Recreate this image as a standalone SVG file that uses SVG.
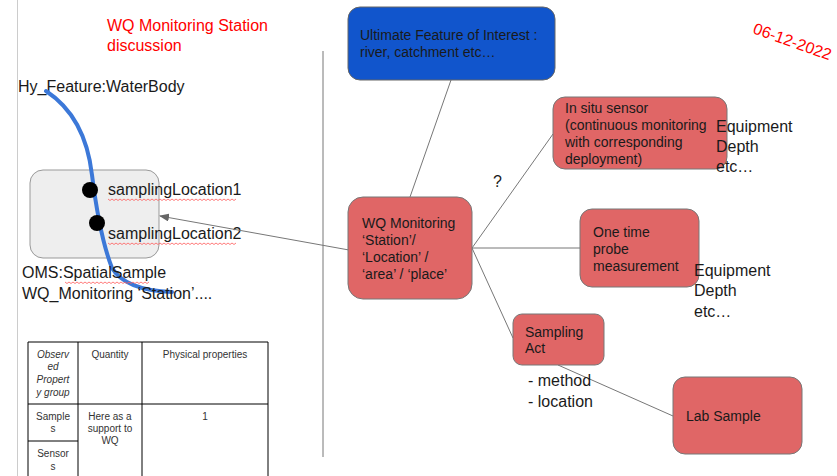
<svg xmlns="http://www.w3.org/2000/svg" width="837" height="476" viewBox="0 0 837 476">
<defs>
<style>
text{font-family:"Liberation Sans",Arial,sans-serif;fill:#1a1a1a}
.t16{font-size:16px}
.t14{font-size:14px}
.red{fill:#ff0000}
.node{fill:#e06666;stroke:#777;stroke-width:1}
.edge{stroke:#777;stroke-width:1;fill:none}
.tbl{stroke:#000;stroke-width:1;fill:none}
.tt{font-size:10px;text-anchor:middle;fill:#333}
.sq{stroke:#ff5a5a;stroke-width:0.8;fill:none}
</style>
<marker id="arr" markerWidth="10" markerHeight="8" refX="9" refY="4" orient="auto" markerUnits="userSpaceOnUse">
<path d="M0,0 L10,4 L0,8 Z" fill="#666"/>
</marker>
</defs>
<rect width="837" height="476" fill="#fff"/>
<line x1="17.5" y1="0" x2="17.5" y2="476" stroke="#ccc"/>
<line x1="323" y1="51" x2="323" y2="457" stroke="#777" stroke-width="1"/>

<text class="t16 red" x="107" y="31">WQ Monitoring Station</text>
<text class="t16 red" x="107" y="51">discussion</text>
<text class="t16 red" transform="translate(752,33) rotate(19.5)">06-12-2022</text>

<g id="spatial-sample">
<rect x="30" y="170" width="129" height="88" rx="13" fill="#eeeeee" stroke="#999"/>
</g>
<g id="waterbody">
<text class="t16" x="18" y="92">Hy_Feature:WaterBody</text>
<path d="M46,91 C75,110 88,140 92,175 C97,215 103,245 112,268 C122,285 145,291 172,292" stroke="#3c78d8" stroke-width="4" fill="none" stroke-linecap="round"/>
</g>
<g id="sampling-locations">
<circle cx="90" cy="190" r="8" fill="#000"/>
<circle cx="97" cy="223" r="8" fill="#000"/>
<text class="t16" x="108" y="195">samplingLocation1</text>
<text class="t16" x="108" y="239">samplingLocation2</text>
<path class="sq" d="M108,199 l2,1.5 l2,-1.5 l2,1.5 l2,-1.5 l2,1.5 l2,-1.5 l2,1.5 l2,-1.5 l2,1.5 l2,-1.5 l2,1.5 l2,-1.5 l2,1.5 l2,-1.5 l2,1.5 l2,-1.5 l2,1.5 l2,-1.5 l2,1.5 l2,-1.5 l2,1.5 l2,-1.5 l2,1.5 l2,-1.5 l2,1.5 l2,-1.5 l2,1.5 l2,-1.5 l2,1.5 l2,-1.5 l2,1.5 l2,-1.5 l2,1.5 l2,-1.5 l2,1.5 l2,-1.5 l2,1.5 l2,-1.5 l2,1.5 l2,-1.5 l2,1.5 l2,-1.5 l2,1.5 l2,-1.5 l2,1.5 l2,-1.5 l2,1.5 l2,-1.5 l2,1.5 l2,-1.5 l2,1.5 l2,-1.5 l2,1.5 l2,-1.5 l2,1.5 l2,-1.5 l2,1.5 l2,-1.5 l2,1.5 l2,-1.5 l2,1.5 l2,-1.5 l2,1.5 l2,-1.5"/>
<path class="sq" d="M108,243 l2,1.5 l2,-1.5 l2,1.5 l2,-1.5 l2,1.5 l2,-1.5 l2,1.5 l2,-1.5 l2,1.5 l2,-1.5 l2,1.5 l2,-1.5 l2,1.5 l2,-1.5 l2,1.5 l2,-1.5 l2,1.5 l2,-1.5 l2,1.5 l2,-1.5 l2,1.5 l2,-1.5 l2,1.5 l2,-1.5 l2,1.5 l2,-1.5 l2,1.5 l2,-1.5 l2,1.5 l2,-1.5 l2,1.5 l2,-1.5 l2,1.5 l2,-1.5 l2,1.5 l2,-1.5 l2,1.5 l2,-1.5 l2,1.5 l2,-1.5 l2,1.5 l2,-1.5 l2,1.5 l2,-1.5 l2,1.5 l2,-1.5 l2,1.5 l2,-1.5 l2,1.5 l2,-1.5 l2,1.5 l2,-1.5 l2,1.5 l2,-1.5 l2,1.5 l2,-1.5 l2,1.5 l2,-1.5 l2,1.5 l2,-1.5 l2,1.5 l2,-1.5 l2,1.5 l2,-1.5"/>
<text class="t16" x="22" y="278">OMS:SpatialSample</text>
<text class="t16" x="22" y="299">WQ_Monitoring ‘Station’....</text>
<path class="sq" d="M65,282 l2,1.5 l2,-1.5 l2,1.5 l2,-1.5 l2,1.5 l2,-1.5 l2,1.5 l2,-1.5 l2,1.5 l2,-1.5 l2,1.5 l2,-1.5 l2,1.5 l2,-1.5 l2,1.5 l2,-1.5 l2,1.5 l2,-1.5 l2,1.5 l2,-1.5 l2,1.5 l2,-1.5 l2,1.5 l2,-1.5 l2,1.5 l2,-1.5 l2,1.5 l2,-1.5 l2,1.5 l2,-1.5 l2,1.5 l2,-1.5 l2,1.5 l2,-1.5 l2,1.5 l2,-1.5 l2,1.5 l2,-1.5 l2,1.5 l2,-1.5 l2,1.5 l2,-1.5"/>
</g>

<g id="table">
<line class="tbl" x1="28" y1="342" x2="268" y2="342"/>
<line class="tbl" x1="28" y1="404" x2="268" y2="404"/>
<line class="tbl" x1="28" y1="441" x2="78" y2="441"/>
<line class="tbl" x1="28" y1="342" x2="28" y2="476"/>
<line class="tbl" x1="78" y1="342" x2="78" y2="476"/>
<line class="tbl" x1="142" y1="342" x2="142" y2="476"/>
<line class="tbl" x1="268" y1="342" x2="268" y2="476"/>
<text class="tt" x="53" y="358" font-style="italic">Observ</text>
<text class="tt" x="53" y="370" font-style="italic">ed</text>
<text class="tt" x="53" y="383" font-style="italic">Propert</text>
<text class="tt" x="53" y="396" font-style="italic">y group</text>
<text class="tt" x="110" y="358">Quantity</text>
<text class="tt" x="205" y="358">Physical properties</text>
<text class="tt" x="53" y="420">Sample</text>
<text class="tt" x="53" y="432">s</text>
<text class="tt" x="110" y="420">Here as a</text>
<text class="tt" x="110" y="432">support to</text>
<text class="tt" x="110" y="444">WQ</text>
<text class="tt" x="205" y="420">1</text>
<text class="tt" x="53" y="457">Sensor</text>
<text class="tt" x="53" y="470">s</text>
</g>

<g id="connectors">
<line class="edge" x1="349" y1="250" x2="160" y2="216" marker-end="url(#arr)"/>
<line class="edge" x1="451" y1="80" x2="410" y2="197"/>
<line class="edge" x1="472" y1="248" x2="553" y2="134"/>
<line class="edge" x1="472" y1="248" x2="580" y2="248"/>
<line class="edge" x1="472" y1="248" x2="513" y2="338"/>
<line class="edge" x1="558" y1="365" x2="673" y2="416"/>
<text class="t16" x="493" y="187">?</text>
</g>

<g id="ultimate-foi">
<rect x="348" y="7" width="207" height="73" rx="12" fill="#1155cc" stroke="#666"/>
<text class="t14" x="360" y="40">Ultimate Feature of Interest :</text>
<text class="t14" x="360" y="57">river, catchment etc…</text>
</g>

<g id="wq-station">
<rect class="node" x="348" y="197" width="124" height="102" rx="15"/>
<text class="t14" x="362" y="228">WQ Monitoring</text>
<text class="t14" x="362" y="245">‘Station’/</text>
<text class="t14" x="362" y="262">‘Location’ /</text>
<text class="t14" x="362" y="279">‘area’ / ‘place’</text>
</g>

<g id="in-situ">
<rect class="node" x="553" y="97" width="174" height="72" rx="12"/>
<text class="t14" x="565" y="113">In situ sensor</text>
<text class="t14" x="565" y="130">(continuous monitoring</text>
<text class="t14" x="565" y="147">with corresponding</text>
<text class="t14" x="565" y="164">deployment)</text>
<text class="t16" x="716" y="132">Equipment</text>
<text class="t16" x="716" y="152">Depth</text>
<text class="t16" x="716" y="172">etc…</text>
</g>

<g id="one-time">
<rect class="node" x="580" y="209" width="119" height="78" rx="12"/>
<text class="t14" x="593" y="237">One time</text>
<text class="t14" x="593" y="254">probe</text>
<text class="t14" x="593" y="271">measurement</text>
<text class="t16" x="694" y="276">Equipment</text>
<text class="t16" x="694" y="296">Depth</text>
<text class="t16" x="694" y="317">etc…</text>
</g>

<g id="sampling-act">
<rect class="node" x="513" y="314" width="91" height="51" rx="9"/>
<text class="t14" x="525" y="337">Sampling</text>
<text class="t14" x="525" y="353">Act</text>
<text class="t16" x="528" y="386">- method</text>
<text class="t16" x="528" y="407">- location</text>
</g>

<g id="lab-sample">
<rect class="node" x="673" y="377" width="129" height="77" rx="12"/>
<text class="t14" x="686" y="421">Lab Sample</text>
</g>
</svg>
